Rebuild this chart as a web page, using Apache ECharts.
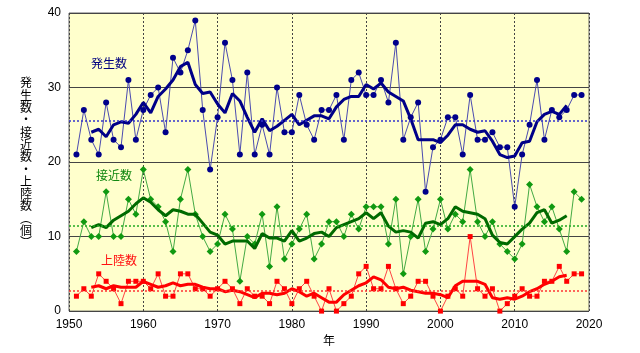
<!DOCTYPE html>
<html>
<head>
<meta charset="utf-8">
<script src="https://cdn.jsdelivr.net/npm/echarts@6/dist/echarts.min.js"></script>
<style>
  html, body { margin: 0; padding: 0; background: #fff; }
  #chart { width: 640px; height: 353px; }
</style>
</head>
<body>
<div id="chart"></div>
<script>
// years 1951-2019
const years = [];
for (let y = 1951; y <= 2019; y++) years.push(y);

// 発生数
const genCount = [21, 27, 23, 21, 28, 23, 22, 31, 23, 27, 29, 30, 24, 34, 32, 35, 39, 27, 19, 26,
    36, 31, 21, 32, 21, 25, 21, 30, 24, 24, 29, 25, 23, 27, 27, 29, 23, 31, 32, 29,
    29, 31, 28, 36, 23, 26, 28, 16, 22, 23, 26, 26, 21, 29, 23, 23, 24, 22, 22, 14,
    21, 25, 31, 23, 27, 26, 27, 29, 29];
// 接近数
const nearCount = [8, 12, 10, 10, 16, 10, 10, 15, 13, 19, 15, 14, 12, 8, 15, 19, 13, 10, 8, 9,
    13, 11, 4, 10, 9, 13, 6, 14, 7, 9, 11, 13, 7, 9, 12, 12, 10, 13, 11, 14,
    14, 14, 9, 15, 5, 10, 15, 8, 11, 15, 11, 13, 12, 19, 12, 10, 12, 9, 8, 7,
    9, 17, 14, 12, 14, 11, 8, 16, 15];
// 上陸数
const landCount = [2, 3, 2, 5, 4, 3, 1, 4, 4, 4, 3, 5, 2, 2, 5, 5, 3, 3, 2, 3,
    4, 3, 1, 3, 2, 2, 1, 4, 3, 1, 3, 4, 2, 0, 3, 0, 1, 2, 5, 6,
    3, 3, 6, 3, 1, 2, 4, 4, 2, 0, 2, 3, 2, 10, 3, 2, 3, 0, 1, 2,
    3, 2, 2, 4, 4, 6, 4, 5, 5];

// 5年移動平均 (1953-2017)
const maStart = 1953;
const genAvg5 = [24.0, 24.4, 23.4, 25.0, 25.4, 25.2, 26.4, 28.0, 26.6, 28.8, 29.8, 31.0, 32.8, 33.4, 30.4, 29.2, 29.4,
    27.8, 26.6, 29.2, 28.2, 26.0, 24.0, 25.8, 24.2, 24.8, 25.6, 26.4, 25.0, 25.6, 26.2, 26.2, 25.8,
    27.4, 28.4, 28.8, 28.8, 30.4, 29.8, 30.6, 29.4, 28.8, 28.2, 25.8, 23.0, 23.0, 23.0, 22.6, 23.6,
    25.0, 25.0, 24.4, 24.0, 24.2, 22.8, 21.0, 20.6, 20.8, 22.6, 22.8, 25.4, 26.4, 26.8, 26.4, 27.6];
const nearAvg5 = [11.2, 11.6, 11.2, 12.2, 12.8, 13.4, 14.4, 15.2, 14.6, 13.6, 12.8, 13.6, 13.4, 13.0, 13.0, 11.8, 10.6,
    10.2, 9.0, 9.4, 9.4, 9.4, 8.4, 10.4, 9.8, 9.8, 9.4, 10.8, 9.4, 9.8, 10.4, 10.6, 10.0,
    11.2, 11.6, 12.0, 12.4, 13.2, 12.4, 13.2, 11.4, 10.6, 10.8, 10.6, 9.8, 11.8, 12.0, 11.6, 12.4,
    14.0, 13.4, 13.2, 13.0, 12.4, 10.2, 9.2, 9.0, 10.0, 11.0, 11.8, 13.2, 13.6, 11.8, 12.2, 12.8];
const landAvg5 = [3.2, 3.4, 3.0, 3.4, 3.2, 3.2, 3.2, 4.0, 3.6, 3.2, 3.4, 3.8, 3.4, 3.6, 3.6, 3.2, 3.0,
    3.0, 2.6, 2.8, 2.6, 2.2, 1.8, 2.4, 2.4, 2.2, 2.4, 3.0, 2.6, 2.0, 2.4, 1.8, 1.2,
    1.2, 2.2, 2.8, 3.4, 3.8, 4.6, 4.2, 3.2, 3.0, 3.2, 2.8, 2.6, 2.4, 2.4, 2.2, 1.8,
    3.4, 4.0, 4.0, 4.0, 3.6, 1.8, 1.6, 1.8, 1.6, 2.0, 2.6, 3.0, 3.6, 4.0, 4.6, 4.8];

// 平年値
const genNormal = 25.6;
const nearNormal = 11.4;
const landNormal = 2.7;

const yTicks = [0, 10, 20, 30, 40];
const xTicks = [1950, 1960, 1970, 1980, 1990, 2000, 2010, 2020];

const FONT = "'Liberation Sans', 'Noto Sans CJK JP', sans-serif";

const pairs = (vals) => vals.map((v, i) => [years[i], v]);
const maPairs = (vals) => vals.map((v, i) => [maStart + i, v]);

const normalLine = (val, color) => ({
    silent: true,
    symbol: "none",
    label: {show: false},
    lineStyle: {color: color, type: [2, 2], width: 1.5},
    data: [{yAxis: val}]
});

const chart = echarts.init(document.getElementById("chart"), null, {renderer: "canvas"});

chart.setOption({
    animation: false,
    textStyle: {fontFamily: FONT},
    grid: {
        left: 69, right: 51, top: 13, bottom: 41,
        show: true,
        backgroundColor: "#FFFFCC",
        borderColor: "#666",
        borderWidth: 1
    },
    xAxis: {
        type: "value",
        min: xTicks[0],
        max: xTicks[xTicks.length - 1],
        interval: 10,
        name: "年",
        nameLocation: "middle",
        nameGap: 24,
        nameTextStyle: {color: "#000", fontSize: 12, fontFamily: FONT},
        axisLine: {show: false},
        axisTick: {show: false},
        axisLabel: {color: "#000", fontSize: 12, margin: 8, fontFamily: FONT, formatter: (v) => String(v)},
        splitLine: {show: true, lineStyle: {color: "#444", type: [2, 2], width: 1}}
    },
    yAxis: {
        type: "value",
        min: yTicks[0],
        max: yTicks[yTicks.length - 1],
        interval: 10,
        axisLine: {show: false},
        axisTick: {show: false},
        axisLabel: {color: "#000", fontSize: 12, margin: 8, fontFamily: FONT},
        splitLine: {show: true, lineStyle: {color: "#444", width: 1}}
    },
    graphic: [
        {
            type: "text", left: 20, top: 78,
            style: {
                text: "発\n生\n数\n・\n接\n近\n数\n・\n上\n陸\n数\n︵\n個\n︶",
                fontSize: 12, lineHeight: 12.3, fill: "#000", fontFamily: FONT, align: "center"
            }
        },
        {type: "text", left: 91, top: 59, style: {text: "発生数", fontSize: 12, fill: "#000080", fontFamily: FONT}},
        {type: "text", left: 96, top: 171, style: {text: "接近数", fontSize: 12, fill: "#118811", fontFamily: FONT}},
        {type: "text", left: 101, top: 256, style: {text: "上陸数", fontSize: 12, fill: "#FF1111", fontFamily: FONT}}
    ],
    series: [
        {
            name: "発生数", type: "line", data: pairs(genCount),
            symbol: "circle", symbolSize: 6,
            itemStyle: {color: "#00008B"},
            lineStyle: {color: "#4B4BB0", width: 1},
            markLine: normalLine(genNormal, "#3333CC"),
            z: 2
        },
        {
            name: "接近数", type: "line", data: pairs(nearCount),
            symbol: "diamond", symbolSize: 7,
            itemStyle: {color: "#119911"},
            lineStyle: {color: "#44AA44", width: 1},
            markLine: normalLine(nearNormal, "#22AA22"),
            z: 2
        },
        {
            name: "上陸数", type: "line", data: pairs(landCount),
            symbol: "rect", symbolSize: 5,
            itemStyle: {color: "#FF0000"},
            lineStyle: {color: "#FF4444", width: 1},
            markLine: normalLine(landNormal, "#FF3333"),
            z: 2
        },
        {
            name: "発生数5年", type: "line", data: maPairs(genAvg5),
            symbol: "none", lineStyle: {color: "#000088", width: 3}, z: 3
        },
        {
            name: "接近数5年", type: "line", data: maPairs(nearAvg5),
            symbol: "none", lineStyle: {color: "#006A00", width: 3}, z: 3
        },
        {
            name: "上陸数5年", type: "line", data: maPairs(landAvg5),
            symbol: "none", lineStyle: {color: "#FF0000", width: 3}, z: 3
        }
    ]
});
</script>
</body>
</html>
